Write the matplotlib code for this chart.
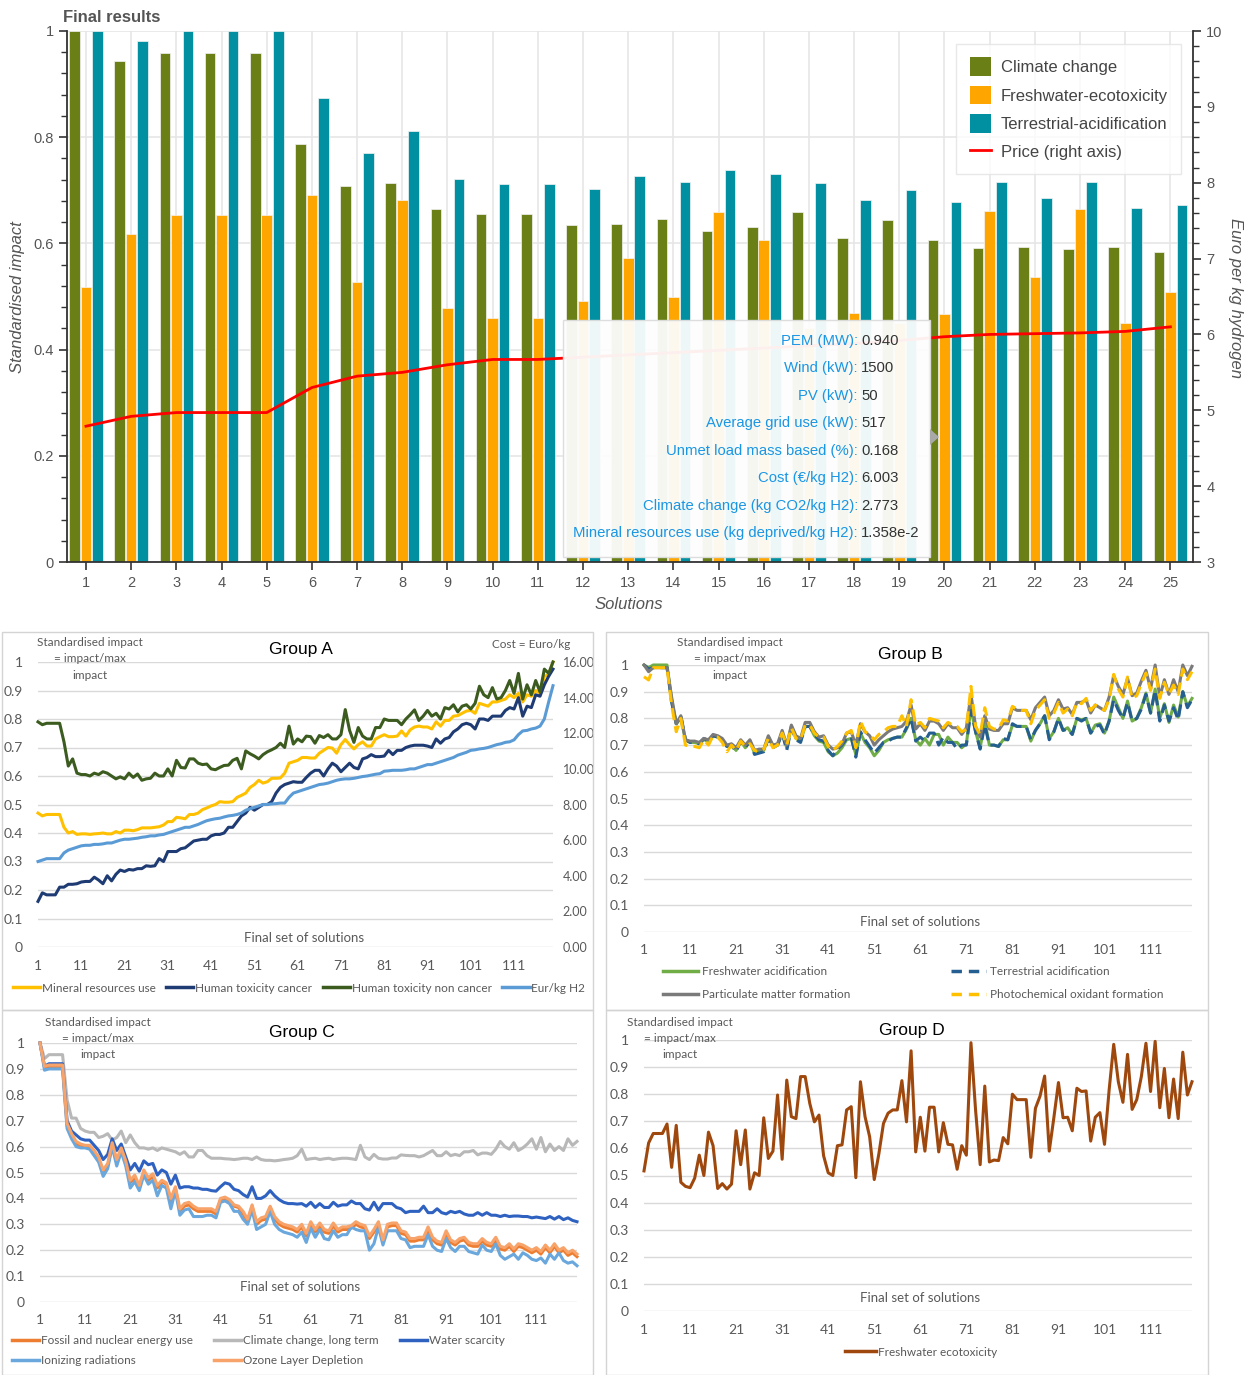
import numpy as np
import matplotlib.pyplot as plt
from matplotlib.patches import Patch, Rectangle, Polygon
from matplotlib.lines import Line2D

plt.rcParams['font.family'] = ['Liberation Sans', 'DejaVu Sans']

# ---------------- data: top bar chart ----------------
solutions = list(range(1, 26))
climate_change = [1.0, 0.943, 0.959, 0.959, 0.959, 0.787, 0.709, 0.713, 0.664, 0.656,
                  0.656, 0.635, 0.637, 0.646, 0.623, 0.630, 0.660, 0.610, 0.644, 0.607,
                  0.592, 0.594, 0.590, 0.593, 0.584]
freshwater_ecotox = [0.517, 0.618, 0.654, 0.654, 0.654, 0.691, 0.528, 0.681, 0.478, 0.460,
                     0.460, 0.491, 0.572, 0.500, 0.659, 0.607, 0.440, 0.469, 0.450, 0.467,
                     0.661, 0.537, 0.664, 0.450, 0.508]
terrestrial_acid = [1.0, 0.981, 1.0, 1.0, 1.0, 0.873, 0.771, 0.812, 0.721, 0.712,
                    0.712, 0.703, 0.727, 0.715, 0.738, 0.730, 0.713, 0.681, 0.700, 0.678,
                    0.716, 0.686, 0.715, 0.666, 0.673]
price = [4.79, 4.92, 4.97, 4.97, 4.97, 5.30, 5.45, 5.50, 5.60, 5.67,
         5.67, 5.70, 5.73, 5.76, 5.79, 5.82, 5.85, 5.88, 5.92, 5.97,
         6.00, 6.01, 6.02, 6.04, 6.10]

tip_labels = ['PEM (MW):', 'Wind (kW):', 'PV (kW):', 'Average grid use (kW):',
              'Unmet load mass based (%):', 'Cost (€/kg H2):',
              'Climate change (kg CO2/kg H2):', 'Mineral resources use (kg deprived/kg H2):']
tip_values = ['0.940', '1500', '50', '517', '0.168', '6.003', '2.773', '1.358e-2']

# ---------------- data: group panels (120 solutions) ----------------
sol = np.arange(1, 121)
xticks_grp = list(range(1, 112, 10))

# Group A
mineral_use = [0.47, 0.46, 0.465, 0.465, 0.465, 0.465, 0.42, 0.40, 0.405, 0.395,
               0.397, 0.397, 0.395, 0.397, 0.398, 0.40, 0.397, 0.397, 0.405, 0.40,
               0.41, 0.41, 0.408, 0.412, 0.418, 0.418, 0.418, 0.42, 0.422, 0.428,
               0.44, 0.44, 0.455, 0.453, 0.45, 0.465, 0.465, 0.47, 0.482, 0.488,
               0.495, 0.50, 0.51, 0.508, 0.508, 0.51, 0.525, 0.532, 0.54, 0.56,
               0.57, 0.585, 0.575, 0.58, 0.592, 0.592, 0.593, 0.61, 0.645, 0.65,
               0.655, 0.665, 0.665, 0.663, 0.663, 0.68, 0.69, 0.70, 0.698, 0.68,
               0.71, 0.728, 0.71, 0.695, 0.71, 0.72, 0.705, 0.705, 0.73, 0.738,
               0.745, 0.738, 0.738, 0.74, 0.758, 0.74, 0.762, 0.772, 0.775, 0.772,
               0.772, 0.765, 0.79, 0.775, 0.795, 0.795, 0.81, 0.812, 0.82, 0.828,
               0.83, 0.82, 0.855, 0.85, 0.845, 0.86, 0.86, 0.865, 0.87, 0.885,
               0.875, 0.89, 0.86, 0.885, 0.88, 0.90, 0.89, 0.95, 0.955, 1.0]
tox_cancer = [0.16, 0.19, 0.183, 0.183, 0.183, 0.21, 0.21, 0.22, 0.22, 0.222,
              0.228, 0.23, 0.23, 0.245, 0.235, 0.222, 0.25, 0.232, 0.255, 0.27,
              0.265, 0.272, 0.27, 0.275, 0.275, 0.285, 0.283, 0.285, 0.31, 0.30,
              0.335, 0.335, 0.335, 0.345, 0.348, 0.36, 0.372, 0.375, 0.378, 0.378,
              0.39, 0.395, 0.395, 0.40, 0.42, 0.42, 0.44, 0.46, 0.47, 0.49,
              0.48, 0.49, 0.50, 0.50, 0.51, 0.54, 0.56, 0.57, 0.575, 0.58,
              0.578, 0.578, 0.595, 0.61, 0.62, 0.62, 0.60, 0.625, 0.645, 0.635,
              0.615, 0.63, 0.645, 0.63, 0.625, 0.66, 0.665, 0.675, 0.668, 0.668,
              0.67, 0.69, 0.675, 0.69, 0.69, 0.70, 0.705, 0.708, 0.708, 0.708,
              0.705, 0.70, 0.73, 0.715, 0.73, 0.735, 0.755, 0.765, 0.78, 0.785,
              0.78, 0.765, 0.80, 0.80, 0.795, 0.81, 0.81, 0.81, 0.83, 0.84,
              0.835, 0.875, 0.81, 0.845, 0.84, 0.885, 0.88, 0.92, 0.95, 0.975]
tox_noncancer = [0.79, 0.78, 0.785, 0.785, 0.785, 0.785, 0.72, 0.635, 0.66, 0.61,
                 0.605, 0.605, 0.60, 0.61, 0.605, 0.615, 0.61, 0.60, 0.59, 0.597,
                 0.59, 0.61, 0.595, 0.607, 0.585, 0.59, 0.592, 0.61, 0.60, 0.60,
                 0.625, 0.60, 0.655, 0.63, 0.628, 0.66, 0.66, 0.645, 0.64, 0.642,
                 0.625, 0.622, 0.63, 0.637, 0.638, 0.655, 0.662, 0.625, 0.688, 0.678,
                 0.67, 0.66, 0.675, 0.685, 0.692, 0.70, 0.715, 0.70, 0.775, 0.712,
                 0.73, 0.72, 0.74, 0.738, 0.715, 0.742, 0.735, 0.745, 0.73, 0.73,
                 0.745, 0.833, 0.76, 0.718, 0.77, 0.74, 0.73, 0.73, 0.77, 0.77,
                 0.80, 0.795, 0.795, 0.795, 0.78, 0.80, 0.815, 0.832, 0.795, 0.81,
                 0.83, 0.81, 0.82, 0.80, 0.84, 0.835, 0.85, 0.825, 0.845, 0.85,
                 0.835, 0.855, 0.915, 0.885, 0.875, 0.91, 0.87, 0.875, 0.90, 0.935,
                 0.89, 0.96, 0.87, 0.92, 0.885, 0.935, 0.895, 0.975, 0.96, 1.0]
eur_per_kg = [4.80, 4.88, 4.96, 4.96, 4.96, 4.96, 5.28, 5.44, 5.52, 5.60,
              5.68, 5.71, 5.71, 5.76, 5.76, 5.79, 5.84, 5.84, 5.92, 6.00,
              6.05, 6.05, 6.08, 6.11, 6.16, 6.19, 6.24, 6.24, 6.29, 6.32,
              6.40, 6.48, 6.56, 6.64, 6.72, 6.72, 6.80, 6.88, 6.99, 7.09,
              7.15, 7.20, 7.23, 7.30, 7.36, 7.39, 7.44, 7.52, 7.68, 7.76,
              7.84, 7.92, 8.00, 8.00, 8.03, 8.05, 8.08, 8.08, 8.40, 8.64,
              8.72, 8.80, 8.88, 8.96, 9.04, 9.12, 9.15, 9.20, 9.28, 9.36,
              9.41, 9.44, 9.44, 9.47, 9.52, 9.57, 9.60, 9.65, 9.70, 9.73,
              9.87, 9.89, 9.92, 9.92, 9.92, 9.95, 10.00, 10.00, 10.08, 10.16,
              10.24, 10.24, 10.32, 10.40, 10.48, 10.56, 10.64, 10.77, 10.85, 10.93,
              11.04, 11.07, 11.12, 11.15, 11.20, 11.28, 11.36, 11.41, 11.49, 11.52,
              11.63, 11.92, 12.13, 12.16, 12.24, 12.29, 12.40, 12.80, 13.76, 14.67]

# Group B
fw_acid = [1.0, 0.99, 1.0, 1.0, 1.0, 1.0, 0.87, 0.78, 0.80, 0.72,
           0.71, 0.71, 0.705, 0.72, 0.715, 0.735, 0.73, 0.72, 0.695, 0.70,
           0.68, 0.715, 0.69, 0.715, 0.67, 0.675, 0.68, 0.73, 0.695, 0.70,
           0.745, 0.69, 0.77, 0.725, 0.715, 0.77, 0.77, 0.735, 0.715, 0.71,
           0.675, 0.66, 0.67, 0.69, 0.72, 0.725, 0.665, 0.745, 0.71, 0.69,
           0.66, 0.68, 0.71, 0.72, 0.725, 0.73, 0.73, 0.76, 0.80, 0.72,
           0.70, 0.725, 0.70, 0.74, 0.74, 0.70, 0.73, 0.71, 0.71, 0.69,
           0.705, 0.84, 0.75, 0.69, 0.79, 0.70, 0.70, 0.695, 0.72, 0.72,
           0.775, 0.77, 0.77, 0.77, 0.715, 0.755, 0.78, 0.81, 0.725, 0.75,
           0.80, 0.755, 0.765, 0.74, 0.80, 0.795, 0.80, 0.745, 0.775, 0.78,
           0.745, 0.79, 0.88, 0.84, 0.80, 0.865, 0.79, 0.80, 0.84, 0.895,
           0.82, 0.91, 0.80, 0.855, 0.785, 0.85, 0.805, 0.90, 0.845, 0.875]
terr_acid = [1.0, 0.985, 0.99, 0.99, 0.99, 0.99, 0.86, 0.78, 0.81, 0.72,
             0.71, 0.71, 0.705, 0.725, 0.715, 0.735, 0.73, 0.72, 0.695, 0.70,
             0.675, 0.715, 0.69, 0.715, 0.665, 0.67, 0.675, 0.725, 0.69, 0.70,
             0.745, 0.68, 0.765, 0.72, 0.71, 0.77, 0.77, 0.74, 0.72, 0.715,
             0.68, 0.66, 0.685, 0.70, 0.725, 0.73, 0.655, 0.75, 0.72, 0.695,
             0.67, 0.69, 0.71, 0.715, 0.725, 0.73, 0.73, 0.765, 0.80, 0.715,
             0.73, 0.715, 0.745, 0.745, 0.70, 0.73, 0.71, 0.71, 0.685, 0.70,
             0.70, 0.83, 0.75, 0.685, 0.775, 0.70, 0.70, 0.695, 0.725, 0.72,
             0.78, 0.77, 0.77, 0.77, 0.72, 0.755, 0.78, 0.81, 0.72, 0.75,
             0.80, 0.755, 0.76, 0.74, 0.80, 0.79, 0.80, 0.745, 0.77, 0.775,
             0.74, 0.79, 0.87, 0.83, 0.80, 0.86, 0.79, 0.80, 0.835, 0.89,
             0.82, 0.905, 0.79, 0.85, 0.79, 0.84, 0.795, 0.90, 0.84, 0.87]
particulate = [1.0, 0.975, 0.99, 0.99, 0.99, 0.99, 0.88, 0.78, 0.81, 0.72,
               0.715, 0.715, 0.71, 0.725, 0.72, 0.74, 0.735, 0.725, 0.70, 0.705,
               0.69, 0.72, 0.70, 0.72, 0.68, 0.685, 0.685, 0.735, 0.70, 0.705,
               0.755, 0.70, 0.775, 0.735, 0.725, 0.785, 0.785, 0.75, 0.73, 0.735,
               0.70, 0.685, 0.69, 0.705, 0.745, 0.75, 0.70, 0.78, 0.75, 0.735,
               0.70, 0.72, 0.735, 0.75, 0.76, 0.765, 0.77, 0.79, 0.85, 0.76,
               0.78, 0.755, 0.79, 0.79, 0.78, 0.755, 0.78, 0.765, 0.765, 0.74,
               0.765, 0.89, 0.77, 0.73, 0.81, 0.76, 0.755, 0.755, 0.78, 0.78,
               0.84, 0.83, 0.83, 0.83, 0.795, 0.84, 0.86, 0.88, 0.81, 0.83,
               0.87, 0.835, 0.84, 0.815, 0.86, 0.86, 0.87, 0.82, 0.85, 0.84,
               0.83, 0.88, 0.96, 0.92, 0.89, 0.95, 0.885, 0.895, 0.94, 0.98,
               0.91, 1.0, 0.88, 0.945, 0.89, 0.945, 0.90, 1.0, 0.96, 0.995]
photochem = [0.956, 0.944, 0.99, 0.99, 0.99, 0.99, 0.85, 0.75, 0.80, 0.70,
             0.695, 0.695, 0.69, 0.72, 0.70, 0.735, 0.73, 0.71, 0.675, 0.70,
             0.68, 0.715, 0.695, 0.705, 0.68, 0.675, 0.685, 0.725, 0.69, 0.70,
             0.745, 0.70, 0.765, 0.725, 0.72, 0.775, 0.775, 0.745, 0.73, 0.73,
             0.695, 0.68, 0.695, 0.715, 0.745, 0.755, 0.69, 0.79, 0.75, 0.74,
             0.72, 0.74, 0.75, 0.765, 0.77, 0.77, 0.81, 0.77, 0.87, 0.775,
             0.785, 0.765, 0.80, 0.795, 0.79, 0.765, 0.785, 0.775, 0.77, 0.75,
             0.76, 0.92, 0.77, 0.74, 0.84, 0.77, 0.76, 0.76, 0.795, 0.79,
             0.845, 0.835, 0.83, 0.83, 0.78, 0.83, 0.85, 0.87, 0.80, 0.82,
             0.86, 0.82, 0.835, 0.81, 0.86, 0.855, 0.875, 0.83, 0.85, 0.84,
             0.83, 0.87, 0.965, 0.91, 0.88, 0.955, 0.875, 0.885, 0.93, 0.97,
             0.905, 0.985, 0.875, 0.935, 0.89, 0.925, 0.89, 0.985, 0.945, 0.975]

# Group C
fossil_energy = [1.0, 0.905, 0.905, 0.905, 0.905, 0.905, 0.68, 0.64, 0.61, 0.605,
                 0.60, 0.60, 0.575, 0.55, 0.50, 0.525, 0.61, 0.54, 0.59, 0.535,
                 0.46, 0.48, 0.44, 0.50, 0.47, 0.485, 0.44, 0.465, 0.455, 0.39,
                 0.44, 0.35, 0.37, 0.375, 0.36, 0.35, 0.35, 0.35, 0.35, 0.34,
                 0.395, 0.40, 0.39, 0.37, 0.365, 0.34, 0.31, 0.37, 0.30, 0.315,
                 0.32, 0.365, 0.32, 0.30, 0.29, 0.285, 0.28, 0.27, 0.29, 0.255,
                 0.30, 0.27, 0.295, 0.27, 0.265, 0.295, 0.27, 0.28, 0.28, 0.285,
                 0.30, 0.29, 0.285, 0.245, 0.27, 0.30, 0.23, 0.29, 0.295, 0.295,
                 0.265, 0.26, 0.235, 0.235, 0.24, 0.24, 0.28, 0.24, 0.225, 0.22,
                 0.265, 0.23, 0.22, 0.235, 0.24, 0.22, 0.215, 0.215, 0.235, 0.22,
                 0.215, 0.24, 0.205, 0.20, 0.215, 0.195, 0.215, 0.21, 0.20, 0.19,
                 0.20, 0.185, 0.21, 0.19, 0.215, 0.19, 0.20, 0.18, 0.19, 0.175]
climate_long = [1.0, 0.94, 0.955, 0.955, 0.955, 0.955, 0.78, 0.71, 0.71, 0.67,
                0.66, 0.655, 0.655, 0.635, 0.64, 0.65, 0.625, 0.635, 0.66, 0.615,
                0.645, 0.615, 0.595, 0.595, 0.59, 0.595, 0.585, 0.595, 0.59, 0.585,
                0.58, 0.57, 0.58, 0.56, 0.56, 0.585, 0.585, 0.565, 0.555, 0.555,
                0.555, 0.553, 0.552, 0.55, 0.552, 0.555, 0.555, 0.55, 0.56, 0.55,
                0.547, 0.547, 0.545, 0.547, 0.55, 0.552, 0.555, 0.565, 0.59, 0.55,
                0.553, 0.555, 0.55, 0.553, 0.555, 0.55, 0.553, 0.555, 0.555, 0.553,
                0.55, 0.605, 0.56, 0.55, 0.57, 0.555, 0.552, 0.552, 0.556, 0.556,
                0.568, 0.566, 0.565, 0.565, 0.56, 0.565, 0.575, 0.585, 0.565, 0.565,
                0.58, 0.565, 0.57, 0.565, 0.58, 0.58, 0.585, 0.568, 0.575, 0.575,
                0.57, 0.59, 0.62, 0.60, 0.59, 0.615, 0.585, 0.595, 0.61, 0.63,
                0.59, 0.635, 0.58, 0.61, 0.585, 0.60, 0.585, 0.63, 0.605, 0.62]
water_scarcity = [1.0, 0.91, 0.92, 0.92, 0.92, 0.92, 0.70, 0.66, 0.645, 0.63,
                  0.625, 0.625, 0.605, 0.585, 0.55, 0.57, 0.63, 0.585, 0.61, 0.56,
                  0.51, 0.535, 0.505, 0.545, 0.53, 0.535, 0.49, 0.51, 0.50, 0.455,
                  0.49, 0.44, 0.445, 0.445, 0.44, 0.44, 0.435, 0.435, 0.43, 0.428,
                  0.445, 0.46, 0.455, 0.435, 0.43, 0.415, 0.405, 0.445, 0.40, 0.40,
                  0.41, 0.43, 0.41, 0.395, 0.385, 0.38, 0.38, 0.378, 0.38, 0.37,
                  0.385, 0.365, 0.38, 0.365, 0.365, 0.385, 0.37, 0.375, 0.375, 0.39,
                  0.38, 0.38, 0.36, 0.355, 0.385, 0.355, 0.38, 0.38, 0.38, 0.365,
                  0.36, 0.345, 0.35, 0.35, 0.35, 0.37, 0.345, 0.345, 0.36, 0.345,
                  0.34, 0.35, 0.345, 0.35, 0.34, 0.335, 0.335, 0.345, 0.335, 0.345,
                  0.335, 0.335, 0.33, 0.335, 0.33, 0.332, 0.332, 0.33, 0.33, 0.325,
                  0.328, 0.325, 0.322, 0.33, 0.32, 0.33, 0.318, 0.325, 0.315, 0.31]
ionizing = [1.0, 0.895, 0.90, 0.90, 0.90, 0.90, 0.67, 0.63, 0.60, 0.595,
            0.595, 0.59, 0.565, 0.54, 0.485, 0.515, 0.60, 0.525, 0.58, 0.525,
            0.44, 0.465, 0.43, 0.49, 0.455, 0.47, 0.41, 0.45, 0.44, 0.36,
            0.43, 0.335, 0.355, 0.36, 0.33, 0.33, 0.33, 0.335, 0.335, 0.325,
            0.385, 0.39, 0.38, 0.35, 0.35, 0.32, 0.30, 0.355, 0.28, 0.29,
            0.30, 0.35, 0.30, 0.28, 0.27, 0.265, 0.26, 0.25, 0.27, 0.23,
            0.285, 0.25, 0.28, 0.245, 0.24, 0.275, 0.25, 0.26, 0.26, 0.29,
            0.28, 0.275, 0.275, 0.20, 0.225, 0.29, 0.22, 0.275, 0.275, 0.275,
            0.245, 0.24, 0.21, 0.215, 0.215, 0.215, 0.26, 0.215, 0.20, 0.195,
            0.245, 0.21, 0.195, 0.215, 0.215, 0.195, 0.19, 0.185, 0.22, 0.20,
            0.195, 0.225, 0.18, 0.165, 0.175, 0.185, 0.165, 0.19, 0.18, 0.165,
            0.16, 0.17, 0.15, 0.185, 0.165, 0.19, 0.16, 0.15, 0.155, 0.14]
ozone = [1.0, 0.91, 0.915, 0.915, 0.915, 0.915, 0.69, 0.65, 0.62, 0.61,
         0.605, 0.605, 0.585, 0.56, 0.51, 0.535, 0.615, 0.55, 0.595, 0.545,
         0.47, 0.49, 0.45, 0.51, 0.48, 0.495, 0.45, 0.47, 0.46, 0.40,
         0.445, 0.36, 0.38, 0.385, 0.37, 0.36, 0.36, 0.36, 0.36, 0.35,
         0.40, 0.405, 0.395, 0.375, 0.37, 0.35, 0.32, 0.375, 0.31, 0.325,
         0.33, 0.37, 0.33, 0.31, 0.30, 0.295, 0.29, 0.28, 0.30, 0.265,
         0.31, 0.28, 0.305, 0.28, 0.275, 0.305, 0.28, 0.29, 0.29, 0.295,
         0.31, 0.30, 0.295, 0.255, 0.28, 0.31, 0.24, 0.30, 0.305, 0.305,
         0.275, 0.27, 0.245, 0.245, 0.25, 0.25, 0.29, 0.25, 0.235, 0.23,
         0.275, 0.24, 0.23, 0.245, 0.25, 0.23, 0.225, 0.225, 0.245, 0.23,
         0.225, 0.25, 0.215, 0.21, 0.225, 0.205, 0.225, 0.22, 0.21, 0.20,
         0.21, 0.195, 0.22, 0.20, 0.225, 0.20, 0.21, 0.19, 0.20, 0.185]

# Group D
fw_ecotox = [0.517, 0.62, 0.655, 0.655, 0.655, 0.69, 0.53, 0.685, 0.475, 0.46,
             0.455, 0.49, 0.575, 0.50, 0.66, 0.61, 0.452, 0.47, 0.45, 0.468,
             0.665, 0.54, 0.668, 0.45, 0.51, 0.50, 0.713, 0.563, 0.59, 0.797,
             0.56, 0.852, 0.717, 0.71, 0.865, 0.865, 0.766, 0.698, 0.723, 0.573,
             0.51, 0.50, 0.61, 0.613, 0.742, 0.754, 0.492, 0.846, 0.717, 0.643,
             0.485, 0.58, 0.692, 0.73, 0.742, 0.742, 0.85, 0.698, 0.96, 0.587,
             0.715, 0.59, 0.752, 0.752, 0.587, 0.695, 0.615, 0.613, 0.523, 0.61,
             0.575, 0.99, 0.742, 0.54, 0.83, 0.55, 0.557, 0.555, 0.64, 0.617,
             0.80, 0.78, 0.78, 0.78, 0.567, 0.748, 0.793, 0.867, 0.59, 0.713,
             0.843, 0.713, 0.715, 0.665, 0.822, 0.81, 0.812, 0.627, 0.715, 0.732,
             0.615, 0.815, 0.984, 0.846, 0.77, 0.947, 0.744, 0.78, 0.865, 0.988,
             0.81, 0.995, 0.75, 0.895, 0.713, 0.856, 0.71, 0.955, 0.797, 0.846]

W, H = 1250, 1375
fig = plt.figure(figsize=(12.5, 13.75), dpi=100)


def fx(x):
    return x / W


def fy(y):
    return 1 - y / H


def box(l, t, r, b):
    return [l / W, 1 - b / H, (r - l) / W, (b - t) / H]


# ================= top chart =================
grey_txt = '#555555'
ax = fig.add_axes(box(67, 31, 1193, 562))
x = np.array(solutions)
bw = 0.235
ax.bar(x - 0.255, climate_change, bw, color='#6a7f15', edgecolor='#f4f4f4', linewidth=0.5, zorder=2)
ax.bar(x, freshwater_ecotox, bw, color='#ffa500', edgecolor='#f4f4f4', linewidth=0.5, zorder=2)
ax.bar(x + 0.255, terrestrial_acid, bw, color='#0090a2', edgecolor='#f4f4f4', linewidth=0.5, zorder=2)
ax.set_xlim(0.58, 25.5)
ax.set_ylim(0, 1)
ax.set_xticks(x)
ax.set_yticks(np.arange(0, 1.01, 0.2))
ax.set_yticklabels(['0', '0.2', '0.4', '0.6', '0.8', '1'])
ax.set_yticks(np.arange(0, 1.001, 0.04), minor=True)
ax.grid(True, which='major', color='#e6e6e6', linewidth=1.2, zorder=0)
ax.set_axisbelow(True)
ax.spines['top'].set_visible(False)
ax.spines['right'].set_visible(False)
for s in ['left', 'bottom']:
    ax.spines[s].set_color('#333333')
    ax.spines[s].set_linewidth(1.3)
ax.tick_params(axis='both', which='major', length=6, width=1.2, color='#333333',
               labelcolor=grey_txt, labelsize=10.5)
ax.tick_params(axis='y', which='minor', length=4, width=1, color='#333333')
ax.tick_params(axis='x', pad=4)

ax2 = ax.twinx()
ax2.plot(x, price, color='#ff0000', linewidth=2, zorder=3)
ax2.set_ylim(3, 10)
ax2.set_yticks(range(3, 11))
ax2.set_yticks(np.arange(3, 10.01, 0.2), minor=True)
for s in ['top', 'left', 'bottom']:
    ax2.spines[s].set_visible(False)
ax2.spines['right'].set_color('#333333')
ax2.spines['right'].set_linewidth(1.3)
ax2.tick_params(axis='y', which='major', length=6, width=1.2, color='#333333',
                labelcolor=grey_txt, labelsize=10.5)
ax2.tick_params(axis='y', which='minor', length=4, width=1, color='#333333')

fig.text(fx(63), fy(17), 'Final results', fontsize=12, fontweight='bold', color=grey_txt, va='center')
fig.text(fx(18), fy(297), 'Standardised impact', fontsize=12, style='italic', color=grey_txt,
         rotation=90, ha='center', va='center')
fig.text(fx(629), fy(605), 'Solutions', fontsize=12, style='italic', color=grey_txt, ha='center', va='center')
fig.text(fx(1235), fy(298), 'Euro per kg hydrogen', fontsize=12, style='italic', color=grey_txt,
         rotation=270, ha='center', va='center')

leg_handles = [Patch(facecolor='#6a7f15'), Patch(facecolor='#ffa500'), Patch(facecolor='#0090a2'),
               Line2D([], [], color='#ff0000', linewidth=2)]
leg_labels = ['Climate change', 'Freshwater-ecotoxicity', 'Terrestrial-acidification', 'Price (right axis)']
leg = ax2.legend(leg_handles, leg_labels, loc='upper right', bbox_to_anchor=(fx(1181), fy(44)),
                 bbox_transform=fig.transFigure, fontsize=12, frameon=True, fancybox=False,
                 edgecolor='#e3e3e3', handlelength=1.25, handleheight=1.3, handletextpad=0.6,
                 labelspacing=0.62, borderpad=0.8, borderaxespad=0)
for t in leg.get_texts():
    t.set_color('#444444')

# tooltip
fig.add_artist(Rectangle((fx(563), fy(557)), (930 - 563) / W, (557 - 320) / H, transform=fig.transFigure,
                         facecolor='#fcfdfc', edgecolor='#dcdcdc', alpha=0.95, linewidth=1, zorder=5))
fig.add_artist(Polygon([[fx(930), fy(429)], [fx(939), fy(437)], [fx(930), fy(445)]],
                       transform=fig.transFigure, facecolor='#a9a9a9', edgecolor='none', zorder=5))
row_y = [341, 368, 396, 423, 451, 478, 506, 533]
for lab, val, yy in zip(tip_labels, tip_values, row_y):
    fig.text(fx(858), fy(yy), lab, fontsize=10.7, color='#1a96e4', ha='right', va='center', zorder=6)
    fig.text(fx(861), fy(yy), val, fontsize=10.7, color='#333333', ha='left', va='center', zorder=6)

# ================= group panels =================
pfont = ['Lato', 'DejaVu Sans']
axis_grey = '#595959'

for l, t, r, b in [(2, 632, 593, 1010), (606, 632, 1208, 1010), (2, 1010, 593, 1375), (606, 1010, 1208, 1375)]:
    fig.add_artist(Rectangle((fx(l), fy(b)), (r - l) / W, (b - t) / H, transform=fig.transFigure,
                             facecolor='none', edgecolor='#d4d4d4', linewidth=1))


def style_panel(a):
    a.set_xlim(1, 120)
    a.set_ylim(0, 1)
    a.set_yticks(np.arange(0, 1.01, 0.1))
    a.set_yticklabels(['0'] + ['%.1f' % v for v in np.arange(0.1, 0.95, 0.1)] + ['1'],
                      family=pfont)
    a.set_xticks(xticks_grp)
    a.set_xticklabels([str(v) for v in xticks_grp], family=pfont)
    a.grid(axis='y', color='#d9d9d9', linewidth=1)
    a.set_axisbelow(True)
    for s in a.spines.values():
        s.set_visible(False)
    a.tick_params(axis='y', length=0, labelsize=10, labelcolor=axis_grey, pad=11)
    a.tick_params(axis='x', length=0, labelsize=10, labelcolor=axis_grey, pad=9)
    a.patch.set_alpha(0)


def panel_text(cx, ycenters, title_xy, fsos_xy, title):
    ann = ['Standardised impact', '= impact/max', 'impact']
    for s, yy in zip(ann, ycenters):
        fig.text(fx(cx), fy(yy), s, fontsize=8.5, color=axis_grey, ha='center', va='center', family=pfont)
    fig.text(fx(title_xy[0]), fy(title_xy[1]), title, fontsize=12.5, color='black', ha='center', va='center')
    fig.text(fx(fsos_xy[0]), fy(fsos_xy[1]), 'Final set of solutions', fontsize=9.5, color=axis_grey,
             ha='center', va='center', family=pfont)


lw = 2.2

# Group A
axA = fig.add_axes(box(38, 662, 553, 947))
style_panel(axA)
axA.plot(sol, mineral_use, color='#ffc000', lw=lw, clip_on=False)
axA.plot(sol, tox_cancer, color='#1f3b73', lw=lw, clip_on=False)
axA.plot(sol, tox_noncancer, color='#3b5b1f', lw=lw, clip_on=False)
axA2 = axA.twinx()
axA2.plot(sol, eur_per_kg, color='#5b9bd5', lw=lw, clip_on=False)
axA2.set_ylim(0, 16)
axA2.set_yticks(range(0, 17, 2))
axA2.set_yticklabels(['%.2f' % v for v in range(0, 17, 2)], family=pfont)
for s in axA2.spines.values():
    s.set_visible(False)
axA2.tick_params(axis='y', length=0, labelsize=9, labelcolor=axis_grey, pad=7)
panel_text(90, [643, 659, 675], (301, 650), (304, 938), 'Group A')
fig.text(fx(570), fy(645), 'Cost = Euro/kg', fontsize=8.5, color=axis_grey, ha='right', va='center', family=pfont)
hA = [Line2D([], [], color=c, lw=2.5) for c in ['#ffc000', '#1f3b73', '#3b5b1f', '#5b9bd5']]
lA = ['Mineral resources use', 'Human toxicity cancer', 'Human toxicity non cancer', 'Eur/kg H2']
fig.legend(hA, lA, loc='center', bbox_to_anchor=(fx(299), fy(988)), ncol=4, frameon=False,
           prop={'family': pfont, 'size': 8.5}, labelcolor=axis_grey, handlelength=2.3,
           handletextpad=0.15, columnspacing=0.9)

# Group B
axB = fig.add_axes(box(644, 665, 1192, 932))
style_panel(axB)
axB.plot(sol, fw_acid, color='#70ad47', lw=lw, clip_on=False)
axB.plot(sol, terr_acid, color='#255e91', lw=lw, dashes=(4, 2), clip_on=False)
axB.plot(sol, particulate, color='#7a7a7a', lw=lw, clip_on=False)
axB.plot(sol, photochem, color='#ffc000', lw=lw, dashes=(4, 2), clip_on=False)
panel_text(730, [643, 659, 675], (910, 654), (920, 922), 'Group B')
hB = [Line2D([], [], color='#70ad47', lw=2.5), Line2D([], [], color='#7a7a7a', lw=2.5),
      Line2D([], [], color='#255e91', lw=2.5, dashes=(3, 2)), Line2D([], [], color='#ffc000', lw=2.5, dashes=(3, 2))]
lB = ['Freshwater acidification', 'Particulate matter formation', 'Terrestrial acidification',
      'Photochemical oxidant formation']
fig.legend(hB, lB, loc='center', bbox_to_anchor=(fx(913), fy(983)), ncol=2, frameon=False,
           prop={'family': pfont, 'size': 8.5}, labelcolor=axis_grey, handlelength=3.0,
           handletextpad=0.3, columnspacing=8.5, labelspacing=1.05)

# Group C
axC = fig.add_axes(box(40, 1043, 577, 1302))
style_panel(axC)
axC.plot(sol, fossil_energy, color='#ed7d31', lw=lw, clip_on=False)
axC.plot(sol, climate_long, color='#b8b8b8', lw=lw, clip_on=False)
axC.plot(sol, water_scarcity, color='#2f62c0', lw=lw, clip_on=False)
axC.plot(sol, ionizing, color='#6aa7dd', lw=lw, clip_on=False)
axC.plot(sol, ozone, color='#f7a36a', lw=lw, clip_on=False)
panel_text(98, [1022, 1038, 1054], (302, 1032), (300, 1287), 'Group C')
hC = [Line2D([], [], color=c, lw=2.5) for c in ['#ed7d31', '#6aa7dd', '#b8b8b8', '#f7a36a', '#2f62c0']]
lC = ['Fossil and nuclear energy use', 'Ionizing radiations', 'Climate change, long term',
      'Ozone Layer Depletion', 'Water scarcity']
fig.legend(hC, lC, loc='upper left', bbox_to_anchor=(fx(6), fy(1329)), ncol=3, frameon=False,
           prop={'family': pfont, 'size': 8.5}, labelcolor=axis_grey, handlelength=2.3,
           handletextpad=0.15, columnspacing=1.8, labelspacing=0.75, borderpad=0)

# Group D
axD = fig.add_axes(box(644, 1040, 1192, 1311))
style_panel(axD)
axD.plot(sol, fw_ecotox, color='#9e480e', lw=lw, clip_on=False)
panel_text(680, [1022, 1038, 1054], (912, 1031), (920, 1298), 'Group D')
fig.legend([Line2D([], [], color='#9e480e', lw=2.5)], ['Freshwater ecotoxicity'], loc='center',
           bbox_to_anchor=(fx(921), fy(1352)), frameon=False, prop={'family': pfont, 'size': 8.5},
           labelcolor=axis_grey, handlelength=2.6, handletextpad=0.15)

fig.savefig('out.png', dpi=100)
